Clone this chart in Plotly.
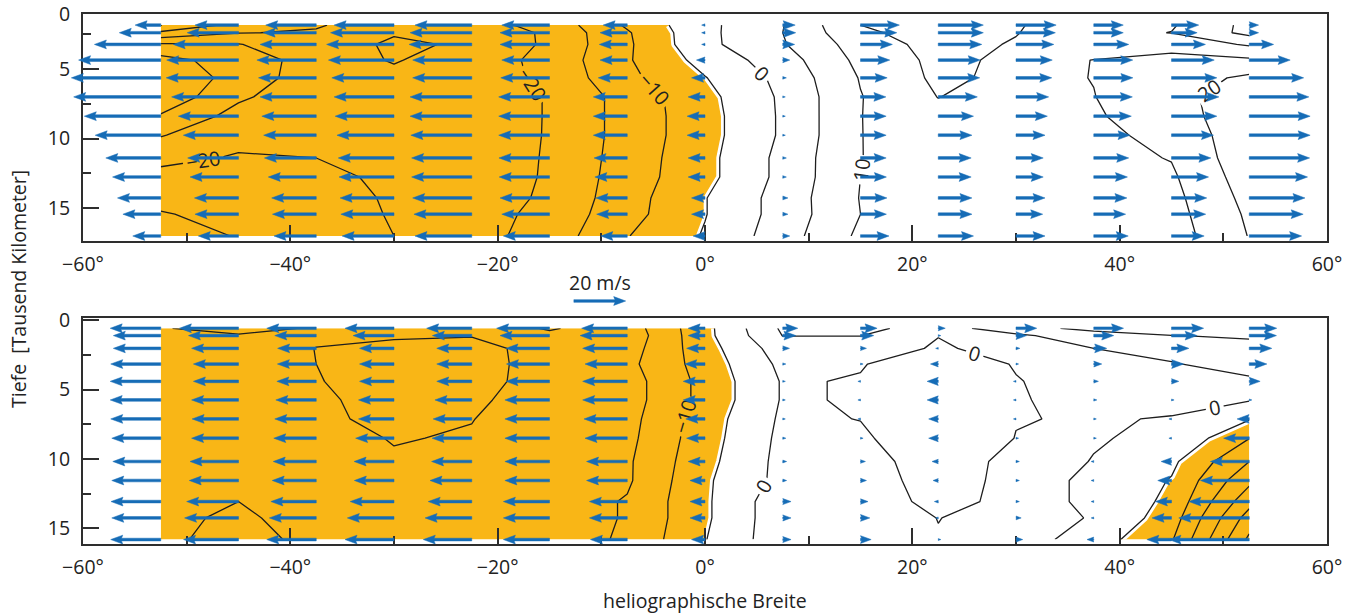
import plotly.graph_objects as go

# ---------------- data ----------------
LON = [-52.5, -45, -37.5, -30, -22.5, -15, -7.5, 0, 7.5, 15, 22.5, 30, 37.5, 45, 52.5]
DEPTH_TOP = [1.83, 2.38, 3.22, 4.35, 5.63, 7.0, 8.39, 9.76, 11.40, 12.77, 14.28, 15.45, 17.02]
DEPTH_BOT = [0.58, 1.11, 2.03, 3.16, 4.41, 5.75, 7.12, 8.51, 10.19, 11.56, 13.08, 14.26, 15.82]

# zonal flow speed (m/s), upper panel, one list per latitude column (top -> bottom)
U1_S52 = [-9.9, -16.0, -25.6, -31.7, -34.5, -33.6, -29.5, -25.3, -21.2, -18.6, -16.7, -14.6, -10.8]
U1_S45 = [-16.8, -19.8, -25.2, -27.7, -27.9, -25.8, -23.2, -21.3, -19.6, -18.7, -17.0, -16.8, -15.5]
U1_S37 = [-19.5, -20.5, -21.7, -22.9, -22.3, -21.7, -21.0, -20.3, -20.0, -18.5, -17.2, -16.9, -16.3]
U1_S30 = [-23.1, -24.5, -26.0, -25.3, -24.0, -23.1, -22.7, -22.0, -21.5, -21.2, -20.8, -20.5, -20.0]
U1_S22 = [-21.9, -23.8, -24.2, -22.8, -22.8, -23.8, -23.8, -23.5, -23.2, -23.2, -22.8, -22.3, -21.9]
U1_S15 = [-18.4, -19.1, -19.1, -18.4, -18.8, -19.6, -19.6, -19.6, -19.5, -19.4, -19.1, -18.4, -17.8]
U1_S07 = [-9.3, -10.5, -10.8, -10.5, -11.2, -13.1, -13.1, -13.1, -12.8, -12.5, -12.1, -11.8, -10.2]
U1_EQ = [-1.3, -1.3, -1.3, -3.3, -5.2, -6.5, -6.9, -6.9, -6.5, -6.5, -5.2, -5.2, -4.6]
U1_N07 = [4.8, 5.0, 4.6, 2.7, 1.4, 0.8, 0.7, 0.7, 1.4, 1.4, 2.0, 2.0, 2.7]
U1_N15 = [15.0, 14.0, 12.3, 11.3, 10.3, 9.8, 9.9, 9.9, 9.9, 10.0, 10.2, 10.0, 11.0]
U1_N22 = [17.4, 17.4, 16.8, 16.2, 16.0, 15.1, 13.6, 13.0, 12.7, 12.7, 13.0, 13.0, 13.6]
U1_N30 = [15.5, 15.2, 14.6, 14.0, 13.8, 12.6, 12.1, 11.2, 10.5, 10.5, 11.2, 10.3, 11.2]
U1_N37 = [11.4, 11.4, 13.5, 15.05, 15.1, 14.9, 14.5, 14.0, 13.5, 13.0, 12.8, 12.3, 13.3]
U1_N45 = [10.5, 9.9, 13.1, 16.5, 17.5, 18.3, 17.5, 16.2, 15.2, 14.3, 13.6, 13.2, 12.6]
U1_N52 = [3.6, 3.6, 9.4, 15.8, 21.0, 23.0, 23.5, 23.5, 23.3, 22.5, 21.5, 20.8, 20.2]

# zonal flow speed (m/s), lower panel
U2_S52 = [-19.5, -18.3, -18.3, -19.3, -19.5, -19.5, -19.3, -18.9, -18.5, -18.9, -19.2, -18.9, -19.3]
U2_S45 = [-22.8, -19.3, -18.1, -17.4, -17.4, -18.1, -17.9, -18.1, -18.7, -19.0, -20.0, -20.8, -21.2]
U2_S37 = [-19.1, -16.0, -14.9, -15.0, -15.2, -15.6, -16.0, -16.4, -16.6, -17.0, -17.5, -18.1, -19.1]
U2_S30 = [-18.9, -15.8, -13.3, -13.3, -13.3, -13.7, -13.7, -14.8, -15.4, -15.3, -16.9, -18.0, -18.9]
U2_S22 = [-17.4, -15.2, -13.5, -13.5, -13.5, -14.2, -14.9, -15.3, -15.5, -16.1, -16.8, -18.0, -18.7]
U2_S15 = [-20.4, -19.1, -16.8, -16.6, -16.8, -17.2, -17.2, -17.2, -17.2, -17.2, -17.8, -17.8, -17.8]
U2_S07 = [-17.6, -18.2, -17.2, -16.3, -17.2, -17.2, -16.7, -16.3, -15.7, -15.7, -14.6, -14.6, -14.2]
U2_EQ = [-6.5, -6.5, -7.1, -7.8, -8.4, -8.4, -7.4, -7.1, -6.5, -5.8, -5.8, -5.8, -5.2]
U2_N07 = [5.8, 5.1, 2.6, 1.2, 0.4, 0.4, 0.8, 1.2, 1.5, 1.5, 3.2, 3.2, 3.2]
U2_N15 = [6.4, 5.1, 2.3, 0.3, -0.3, -0.3, -0.1, 0.8, 1.9, 2.3, 2.9, 3.6, 4.1]
U2_N22 = [2.7, 0.1, -0.5, -3.0, -4.3, -4.3, -3.7, -3.7, -2.4, -2.0, -1.5, -0.1, 0.3]
U2_N30 = [8.0, 4.1, 1.5, 0.3, -0.2, -0.3, -0.15, 0.1, 1.3, 1.3, 1.3, 2.0, 2.6]
U2_N37 = [11.5, 7.7, 5.0, 3.1, 1.8, 1.2, 0.3, 0.2, -0.1, -0.6, -0.6, -0.3, -2.6]
U2_N45 = [12.4, 9.9, 6.7, 4.7, 2.8, 1.0, -0.2, -0.6, -4.0, -5.3, -6.2, -7.5, -9.5]
U2_N52 = [10.6, 10.5, 8.7, 6.8, 4.2, 0.3, -4.7, -9.9, -15.0, -18.8, -23.3, -27.2, -31.0]

TOP_COLS = [U1_S52, U1_S45, U1_S37, U1_S30, U1_S22, U1_S15, U1_S07, U1_EQ,
            U1_N07, U1_N15, U1_N22, U1_N30, U1_N37, U1_N45, U1_N52]
BOT_COLS = [U2_S52, U2_S45, U2_S37, U2_S30, U2_S22, U2_S15, U2_S07, U2_EQ,
            U2_N07, U2_N15, U2_N22, U2_N30, U2_N37, U2_N45, U2_N52]

XTICKS = [-60, -40, -20, 0, 20, 40, 60]
XTICK_TEXT = ["\u221260°", "\u221240°", "\u221220°", "0°", "20°", "40°", "60°"]
XMINOR = [-50, -30, -10, 10, 30, 50]
YTICKS = [5, 10, 15]
YTICK_TEXT = ["0", "5", "10", "15"]
YMINOR = [2.5, 7.5, 12.5]
REF_SPEED = 20          # m/s, key arrow
REF_TAIL_LON = -12.65
DEG_PER_MS = 0.25       # quiver scale: 20 m/s -> 5 degrees
ORANGE_BELOW = -5
X_TITLE = "heliographische Breite"
Y_TITLE = "Tiefe  [Tausend Kilometer]"
KEY_LABEL = "20 m/s"

# ---------------- style / layout ----------------
ORANGE = "#F9B616"
BLUE = "#166CB6"
INK = "#1e1e1e"
FRAME = "#2e2e2e"
FONT = "Open Sans"
FS = 19.5

W, H = 1361, 613
X0, X1 = 83, 1327            # plot frame, px
TOP_PX = (14, 241)
BOT_PX = (318, 544)
TOP_RANGE = [17.38, 1.03]
BOT_RANGE = [16.14, -0.16]
XRANGE = [-60, 60]


def fy(py):
    return 1 - py / H


def fx(px):
    return px / W


PX_PER_DEG = (X1 - X0) / (XRANGE[1] - XRANGE[0])
PXY_TOP = (TOP_PX[1] - TOP_PX[0]) / (TOP_RANGE[0] - TOP_RANGE[1])
PXY_BOT = (BOT_PX[1] - BOT_PX[0]) / (BOT_RANGE[0] - BOT_RANGE[1])

SHAFT_W = 2.7
HEAD_L = 12.0
HEAD_AX = 10.8
HEAD_HW = 4.4
MIN_L = 2.6


def arrow_path(x0, y0, u, px_per_y):
    """matplotlib-like quiver arrow polygon, tail at (x0, y0)."""
    L = max(abs(u) * DEG_PER_MS * PX_PER_DEG, MIN_L)
    s = 1 if u >= 0 else -1
    f = min(1.0, L / HEAD_L)
    w, hl, ha, hw = SHAFT_W / 2 * f, HEAD_L * f, HEAD_AX * f, HEAD_HW * f
    pts = [(0, -w), (L - ha, -w), (L - hl, -hw), (L, 0), (L - hl, hw), (L - ha, w), (0, w), (0, -w)]
    xs = [x0 + s * p / PX_PER_DEG for p, _ in pts]
    ys = [y0 + q / px_per_y for _, q in pts]
    return xs, ys


def quiver(cols, depths, px_per_y, xa, ya):
    X, Y = [], []
    for j, lon in enumerate(LON):
        for i, d in enumerate(depths):
            xs, ys = arrow_path(lon, d, cols[j][i], px_per_y)
            X += xs + [None]
            Y += ys + [None]
    return go.Scatter(x=X, y=Y, mode="lines", fill="toself", fillcolor=BLUE,
                      line=dict(color=BLUE, width=0.5), hoverinfo="skip",
                      xaxis=xa, yaxis=ya)


def contours(cols, depths, xa, ya):
    z = [[c[i] for c in cols] for i in range(len(depths))]
    common = dict(x=LON, y=depths, z=z, xaxis=xa, yaxis=ya, showscale=False,
                  hoverinfo="skip", autocontour=False)
    # plotly shades the region that violates the constraint -> shade z < -5
    out = [go.Contour(contours=dict(type="constraint", operation=">", value=ORANGE_BELOW),
                      fillcolor=ORANGE, line=dict(color="white", width=7, smoothing=0),
                      **common)]
    lab = dict(size=20, color="#222", family=FONT)
    for start, end, size, show in [(-35, 25, 10, False), (-30, -30, 10, False), (-20, 20, 10, True)]:
        out.append(go.Contour(contours=dict(coloring="none", start=start, end=end, size=size,
                                            showlabels=show, labelfont=lab),
                              line=dict(color=INK, width=1.3, smoothing=0), **common))
    return out


fig = go.Figure()
for t in contours(TOP_COLS, DEPTH_TOP, "x", "y"):
    fig.add_trace(t)
for t in contours(BOT_COLS, DEPTH_BOT, "x2", "y2"):
    fig.add_trace(t)
# arrows live on invisible overlay axes that extend left of the frame (arrows may poke out)
fig.add_trace(quiver(TOP_COLS, DEPTH_TOP, PXY_TOP, "x4", "y4"))
fig.add_trace(quiver(BOT_COLS, DEPTH_BOT, PXY_BOT, "x5", "y5"))

# key arrow in the gap between the panels
GAP_H = BOT_PX[0] - TOP_PX[1]
kx, ky = arrow_path(REF_TAIL_LON, (BOT_PX[0] - 301) / GAP_H, REF_SPEED, GAP_H)
fig.add_trace(go.Scatter(x=kx, y=ky, mode="lines", fill="toself", fillcolor=BLUE,
                         line=dict(color=BLUE, width=0.5), hoverinfo="skip",
                         xaxis="x3", yaxis="y3"))

xcommon = dict(range=XRANGE, tickmode="array", tickvals=XTICKS, ticktext=XTICK_TEXT,
               ticks="inside", ticklen=16, tickwidth=2, tickcolor=FRAME,
               showline=True, mirror=True, linewidth=2, linecolor=FRAME,
               showgrid=False, zeroline=False, ticklabelstandoff=5, automargin=False,
               tickfont=dict(size=FS, color="#222", family=FONT),
               minor=dict(tickmode="array", tickvals=XMINOR, ticks="inside",
                          ticklen=8, tickwidth=2, tickcolor=FRAME))
ycommon = dict(ticks="inside", ticklen=16, tickwidth=2, tickcolor=FRAME,
               showline=True, mirror=True, linewidth=2, linecolor=FRAME,
               showgrid=False, zeroline=False, ticklabelstandoff=7, automargin=False,
               tickfont=dict(size=FS, color="#222", family=FONT),
               minor=dict(tickmode="array", tickvals=YMINOR, ticks="inside",
                          ticklen=8, tickwidth=2, tickcolor=FRAME))

XDOM = [fx(X0), fx(X1)]
XDOM_WIDE = [0, fx(X1)]
XRANGE_WIDE = [XRANGE[0] - X0 / PX_PER_DEG, XRANGE[1]]
YDOM_TOP = [fy(TOP_PX[1]), fy(TOP_PX[0])]
YDOM_BOT = [fy(BOT_PX[1]), fy(BOT_PX[0])]
hidden = dict(visible=False, showgrid=False, zeroline=False, automargin=False)
TOP_ZERO_POS = TOP_RANGE[1] + 0.02   # the "0" label of the upper panel sits at its top edge

fig.update_layout(
    width=W, height=H, margin=dict(l=0, r=0, t=0, b=0, pad=0, autoexpand=False),
    paper_bgcolor="white", plot_bgcolor="rgba(0,0,0,0)", showlegend=False,
    font=dict(family=FONT, size=FS, color="#222"),
    xaxis=dict(anchor="y", domain=XDOM, **xcommon),
    yaxis=dict(anchor="x", domain=YDOM_TOP, range=TOP_RANGE,
               tickmode="array", tickvals=[TOP_ZERO_POS] + YTICKS, ticktext=YTICK_TEXT, **ycommon),
    xaxis2=dict(anchor="y2", domain=XDOM, **xcommon),
    yaxis2=dict(anchor="x2", domain=YDOM_BOT, range=BOT_RANGE,
                tickmode="array", tickvals=[0] + YTICKS, ticktext=YTICK_TEXT, **ycommon),
    xaxis3=dict(anchor="y3", domain=XDOM, range=XRANGE, **hidden),
    yaxis3=dict(anchor="x3", domain=[fy(BOT_PX[0]), fy(TOP_PX[1])], range=[0, 1], **hidden),
    xaxis4=dict(anchor="y4", domain=XDOM_WIDE, range=XRANGE_WIDE, **hidden),
    yaxis4=dict(anchor="x4", domain=YDOM_TOP, range=TOP_RANGE, **hidden),
    xaxis5=dict(anchor="y5", domain=XDOM_WIDE, range=XRANGE_WIDE, **hidden),
    yaxis5=dict(anchor="x5", domain=YDOM_BOT, range=BOT_RANGE, **hidden),
)

fig.add_annotation(text=KEY_LABEL, x=REF_TAIL_LON + REF_SPEED * DEG_PER_MS / 2, xref="x",
                   y=fy(282), yref="paper", showarrow=False, xanchor="center", yanchor="middle",
                   font=dict(size=FS, color="#222", family=FONT))
fig.add_annotation(text=X_TITLE, x=fx((X0 + X1) / 2), xref="paper", y=fy(600), yref="paper",
                   showarrow=False, xanchor="center", yanchor="middle",
                   font=dict(size=FS, color="#222", family=FONT))
fig.add_annotation(text=Y_TITLE, x=fx(18), xref="paper", y=fy(289), yref="paper",
                   textangle=-90, showarrow=False, xanchor="center", yanchor="middle",
                   font=dict(size=FS, color="#222", family=FONT))

fig.write_html("out.html")
